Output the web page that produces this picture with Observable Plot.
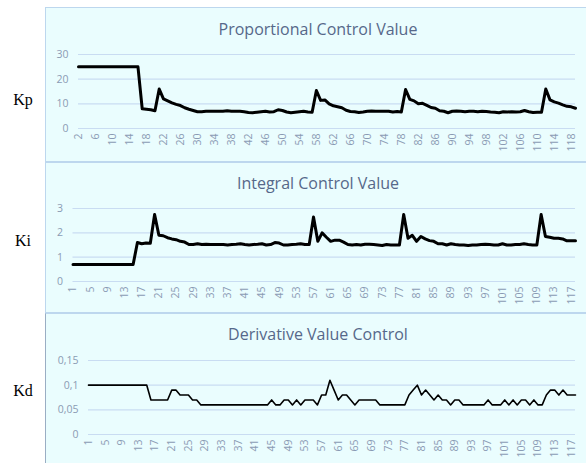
<!DOCTYPE html>
<html>
<head>
<meta charset="utf-8">
<script src="https://cdn.jsdelivr.net/npm/d3@7"></script>
<script src="https://cdn.jsdelivr.net/npm/@observablehq/plot@0.6"></script>
<style>
  body { margin: 0; background: #ffffff; }
  #root { position: relative; width: 586px; height: 463px; overflow: hidden; background: #ffffff; }
  .panel { position: absolute; left: 45px; width: 541px; box-sizing: border-box;
           border: 1px solid #BDD7EE; border-right: none; background: #EAFDFE; }
  .panel svg { position: absolute; left: 0; top: 0; }
  .title { position: absolute; width: 400px; text-align: center; font-family: "Open Sans", sans-serif;
           font-size: 16px; line-height: 20px; color: #56688A; }
  .klabel { position: absolute; width: 40px; text-align: center; font-family: "Liberation Serif", serif;
            font-size: 16px; line-height: 20px; color: #000; }
</style>
</head>
<body>
<div id="root"></div>
<script>
// ---- Data ----
const kpCategories = d3.range(2, 120);   // 2 .. 119
const kiCategories = d3.range(1, 119);   // 1 .. 118
const kdCategories = d3.range(1, 119);   // 1 .. 118

const kpValues = [
  25,25,25,25,25,25,25,25,25,25,25,25,25,25,25,
  8,7.8,7.6,7.2,
  16,12,11.2,10.4,9.8,9.3,8.4,7.8,7.3,6.8,
  6.8,7,7,7,7,7,7.2,7,7,7,
  6.8,6.5,6.4,6.6,6.8,7,6.7,6.8,7.6,7.3,
  6.7,6.4,6.6,6.8,7,6.7,6.6,
  15.4,11.4,11.6,10,9.2,8.8,8.4,7.4,6.9,
  6.8,6.5,6.7,7,7.1,7,7,7,7,6.7,6.9,6.7,
  15.8,11.8,11.2,10,10.2,9.4,8.5,8.2,7.2,7,6.4,
  7,7.1,7,6.8,7,7,6.8,7,6.9,6.7,6.6,6.4,6.8,6.7,6.8,6.7,6.8,7.3,6.8,6.5,6.6,6.6,
  16,11.6,10.8,10.3,9.6,9,8.8,8.2
];

const kiValues = [
  0.7,0.7,0.7,0.7,0.7,0.7,0.7,0.7,0.7,0.7,0.7,0.7,0.7,0.7,0.7,
  1.6,1.55,1.58,1.57,
  2.75,
  1.9,1.88,1.8,1.75,1.72,1.65,1.62,1.52,
  1.52,1.55,1.52,1.53,1.52,1.52,1.52,1.52,1.5,1.52,
  1.53,1.55,1.52,1.5,1.52,1.53,1.55,1.5,1.52,1.6,
  1.58,1.5,1.5,1.52,1.53,1.55,1.52,1.52,
  2.65,
  1.65,2.0,1.82,1.65,1.7,1.7,1.62,1.52,
  1.5,1.52,1.5,1.53,1.53,1.52,1.5,1.48,1.52,1.5,1.5,1.5,
  2.75,
  1.78,1.9,1.65,1.85,1.75,1.68,1.65,1.55,
  1.55,1.5,1.55,1.52,1.5,1.5,1.48,1.5,1.5,1.52,
  1.53,1.52,1.5,1.5,1.55,1.5,1.5,1.52,1.52,1.55,
  1.52,1.5,1.5,
  2.75,
  1.85,1.82,1.78,1.78,1.75,1.67,1.67,1.67
];

const kdValues = [
  0.1,0.1,0.1,0.1,0.1,0.1,0.1,0.1,0.1,0.1,0.1,0.1,0.1,0.1,0.1,
  0.07,0.07,0.07,0.07,0.07,
  0.09,0.09,
  0.08,0.08,0.08,
  0.07,0.07,
  0.06,0.06,0.06,0.06,0.06,0.06,0.06,0.06,0.06,0.06,0.06,0.06,0.06,0.06,0.06,0.06,0.06,
  0.07,
  0.06,0.06,
  0.07,0.07,
  0.06,0.07,0.06,
  0.07,0.07,0.07,
  0.06,
  0.08,0.08,
  0.11,
  0.09,
  0.07,
  0.08,0.08,
  0.07,
  0.06,
  0.07,0.07,0.07,0.07,0.07,
  0.06,0.06,0.06,0.06,0.06,0.06,0.06,
  0.08,0.09,0.1,0.08,0.09,0.08,0.07,0.08,0.07,0.07,0.06,0.07,0.07,
  0.06,0.06,0.06,0.06,0.06,0.06,
  0.07,
  0.06,0.06,0.06,
  0.07,0.06,0.07,0.06,0.07,0.07,0.06,0.07,0.06,0.06,
  0.08,0.09,0.09,0.08,0.09,0.08,0.08,0.08
];

const kpXTicks = d3.range(2, 119, 4);   // 2,6,...,118
const kiXTicks = d3.range(1, 118, 4);   // 1,5,...,117
const kdXTicks = d3.range(1, 118, 4);
const kpYTicks = [0, 10, 20, 30];
const kiYTicks = [0, 1, 2, 3];
const kdYTicks = [0, 0.05, 0.1, 0.15];

const titles = ["Proportional Control Value", "Integral Control Value", "Derivative Value Control"];
const sideLabels = ["Kp", "Ki", "Kd"];

// ---- Layout / drawing ----
const root = document.getElementById("root");
const gridColor = "#C9DCF2";
const tickColor = "#8A9BB4";

function commaFmt(d) { return d === 0 ? "0" : String(d).replace(".", ","); }

const panels = [
  { top: 7,   height: 155, cats: kpCategories, vals: kpValues, xTicks: kpXTicks, yTicks: kpYTicks,
    xDomain: [2, 119], yDomain: [0, 30], mL: 32, mT: 46, fh: 74, sw: 3, fmt: d => String(d),
    titleY: 29, labelY: 100 },
  { top: 162, height: 151, cats: kiCategories, vals: kiValues, xTicks: kiXTicks, yTicks: kiYTicks,
    xDomain: [1, 118], yDomain: [0, 3], mL: 26.5, mT: 45, fh: 73, sw: 3, fmt: d => String(d),
    titleY: 183, labelY: 241 },
  { top: 313, height: 160, cats: kdCategories, vals: kdValues, xTicks: kdXTicks, yTicks: kdYTicks,
    xDomain: [1, 118], yDomain: [0, 0.15], mL: 42, mT: 46, fh: 74, sw: 1.6, fmt: commaFmt,
    titleY: 334, labelY: 391 }
];

panels.forEach((p, i) => {
  const div = document.createElement("div");
  div.className = "panel";
  div.style.top = p.top + "px";
  div.style.height = p.height + "px";
  if (i === 2) div.style.borderLeftColor = "#9AAEC4";
  root.appendChild(div);

  const data = p.cats.map((c, k) => ({ x: c, y: p.vals[k] }));
  const svgH = (i === 2) ? 149 : p.height - 1;
  const chart = Plot.plot({
    width: 540,
    height: svgH,
    marginLeft: p.mL,
    marginRight: 11,
    marginTop: p.mT,
    marginBottom: svgH - p.mT - p.fh,
    style: { background: "transparent", fontFamily: "Open Sans, sans-serif", fontSize: "10.5px", color: tickColor },
    x: { type: "linear", domain: p.xDomain, label: null },
    y: { domain: p.yDomain, label: null },
    marks: [
      Plot.gridY(p.yTicks, { stroke: gridColor, strokeOpacity: 1, strokeWidth: 1.2 }),
      Plot.axisY(p.yTicks, { tickSize: 0, tickPadding: 10, tickFormat: p.fmt, fill: tickColor, fontSize: 10.5, label: null }),
      Plot.axisX(p.xTicks, { tickSize: 0, tickPadding: 5, tickRotate: -90, tickFormat: d => String(d), fill: tickColor, fontSize: 10.5, label: null }),
      Plot.lineY(data, { x: "x", y: "y", stroke: "#000", strokeWidth: p.sw, strokeLinejoin: "round" })
    ]
  });
  div.appendChild(chart);

  const t = document.createElement("div");
  t.className = "title";
  t.textContent = titles[i];
  t.style.left = (318 - 200) + "px";
  t.style.top = (p.titleY - 10) + "px";
  root.appendChild(t);

  const k = document.createElement("div");
  k.className = "klabel";
  k.textContent = sideLabels[i];
  k.style.left = (23 - 20) + "px";
  k.style.top = (p.labelY - 10) + "px";
  root.appendChild(k);
});
</script>
</body>
</html>
